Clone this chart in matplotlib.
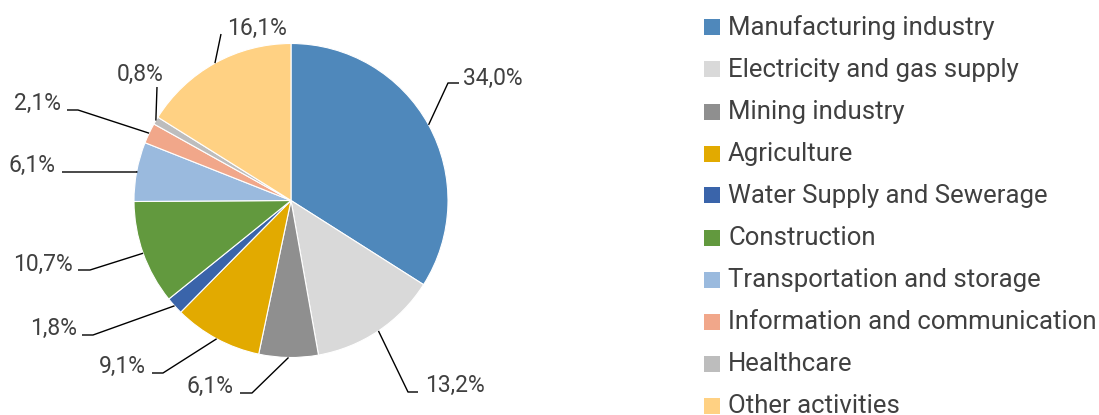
import matplotlib
matplotlib.use("Agg")
import matplotlib.pyplot as plt
from matplotlib.patches import Rectangle
import numpy as np

plt.rcParams['font.family'] = ['Roboto', 'DejaVu Sans']

# Data
categories = ["Manufacturing industry", "Electricity and gas supply", "Mining industry",
              "Agriculture", "Water Supply and Sewerage", "Construction",
              "Transportation and storage", "Information and communication",
              "Healthcare", "Other activities"]
shares = [34.0, 13.2, 6.1, 9.1, 1.8, 10.7, 6.1, 2.1, 0.8, 16.1]
colors = ["#4F88BB", "#D9D9D9", "#8F8F8F", "#E2AA00", "#3A64AA",
          "#62993E", "#9ABADE", "#F1A78A", "#BDBDBD", "#FFD183"]
labels = [f"{v:.1f}%".replace(".", ",") for v in shares]

# Layout of labels (pixel coords, y down): elbow point, line end, text anchor, alignment
elbows = [(448, 83), (408, 392), (252, 393), (163, 373), (93, 335),
          (90, 270), (137, 172), (78, 110), (157, 87), (221, 34)]
line_ends = [(459, 83), (418, 392), (240, 393), (152, 373), (82, 335),
             (78, 270), (62, 172), (67, 110), (157, 87), (221, 34)]
text_pos = [(463, 85), (425, 392), (234, 393), (146, 373), (77, 335),
            (73, 271), (56, 172), (61, 110), (140, 81), (227, 35)]
text_ha = ["left", "left", "right", "right", "right",
           "right", "right", "right", "center", "left"]

W, H = 1099, 415
fig = plt.figure(figsize=(W / 100, H / 100), dpi=100)
ax = fig.add_axes([0, 0, 1, 1])
ax.set_xlim(0, W)
ax.set_ylim(H, 0)
ax.set_aspect("equal")
ax.axis("off")

# y axis is inverted, so counterclock in data = clockwise on screen
wedges, _ = ax.pie(shares, colors=colors, startangle=-90, counterclock=True,
                   center=(291, 200.5), radius=157, frame=True,
                   wedgeprops=dict(edgecolor="white", linewidth=0.8))
ax.set_xlim(0, W)
ax.set_ylim(H, 0)
ax.axis("off")

text_color = "#404040"
for w, lab, el, le, tp, ha in zip(wedges, labels, elbows, line_ends, text_pos, text_ha):
    mid = np.deg2rad((w.theta1 + w.theta2) / 2)
    sx = w.center[0] + w.r * np.cos(mid)
    sy = w.center[1] + w.r * np.sin(mid)
    ax.plot([sx, el[0], le[0]], [sy, el[1], le[1]], color="black", lw=1.0,
            solid_capstyle="butt")
    ax.text(tp[0], tp[1], lab, ha=ha, va="baseline", fontsize=16.5, color=text_color)

# Legend
for i, (cat, col) in enumerate(zip(categories, colors)):
    yc = 27.5 + 42 * i
    ax.add_patch(Rectangle((704, yc - 8), 16, 16, facecolor=col, edgecolor="none"))
    ax.text(728, yc, cat, ha="left", va="center", fontsize=18.5, color=text_color)

fig.savefig("out.png", dpi=100)
